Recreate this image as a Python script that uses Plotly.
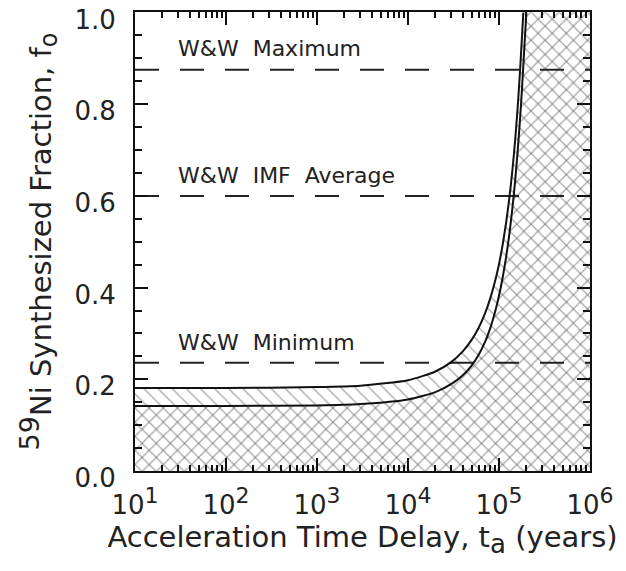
import plotly.graph_objects as go

# ---- data ----
t_upper = [10, 100, 1000, 3000, 1e4, 2e4, 3e4, 4e4, 5e4, 6e4, 7e4, 8e4, 9e4,
           1e5, 1.1e5, 1.2e5, 1.3e5, 1.4e5, 1.5e5, 1.6e5, 1.7e5, 1.8e5, 1.85e5]
f_upper = [0.181, 0.181, 0.183, 0.186, 0.198, 0.217, 0.238, 0.261, 0.286, 0.313,
           0.343, 0.376, 0.412, 0.451, 0.495, 0.543, 0.596, 0.654, 0.718, 0.790,
           0.870, 0.957, 1.0]

t_lower = [10, 100, 1000, 3000, 1e4, 2e4, 3e4, 4e4, 5e4, 6e4, 7e4, 8e4, 9e4,
           1e5, 1.1e5, 1.2e5, 1.3e5, 1.4e5, 1.5e5, 1.6e5, 1.7e5, 1.8e5, 1.9e5, 2.0e5]
f_lower = [0.142, 0.142, 0.143, 0.146, 0.156, 0.172, 0.190, 0.209, 0.230, 0.254,
           0.281, 0.311, 0.345, 0.382, 0.423, 0.468, 0.517, 0.571, 0.630, 0.695,
           0.765, 0.842, 0.925, 1.0]

ww_labels = ["W&amp;W  Maximum", "W&amp;W  IMF  Average", "W&amp;W  Minimum"]
ww_values = [0.875, 0.600, 0.236]
ww_label_y = [0.889, 0.613, 0.249]

x_tick_exps = [1, 2, 3, 4, 5, 6]
x_tick_text = ["10<sup><span style='font-size:22px'>%d</span></sup>" % e for e in x_tick_exps]
y_tick_vals = [0.0, 0.2, 0.4, 0.6, 0.8, 1.0]

X_MIN, X_MAX = 10, 1e6
Y_MIN, Y_MAX = 0.0, 1.0

FONT = "DejaVu Sans"
HATCH = "#5a5a5a"

fig = go.Figure()

# hatched regions: under/right of upper curve (\), under/right of lower curve (/)
for tx, fy, shape in [(t_upper, f_upper, "\\"), (t_lower, f_lower, "/")]:
    fig.add_trace(go.Scatter(
        x=list(tx) + [X_MAX, X_MAX, X_MIN],
        y=list(fy) + [Y_MAX, Y_MIN, Y_MIN],
        mode="none", fill="toself", fillcolor="rgba(0,0,0,0)",
        fillpattern=dict(shape=shape, fgcolor=HATCH, bgcolor="rgba(0,0,0,0)",
                         size=10, solidity=0.14),
        hoverinfo="skip", showlegend=False))

# dashed reference lines
for v in ww_values:
    fig.add_trace(go.Scatter(
        x=[X_MIN, X_MAX], y=[v, v], mode="lines",
        line=dict(color="#222", width=2, dash="24px,21px"),
        showlegend=False, hoverinfo="skip"))

# solid curves
for tx, fy in [(t_upper, f_upper), (t_lower, f_lower)]:
    fig.add_trace(go.Scatter(
        x=tx, y=fy, mode="lines",
        line=dict(color="#111", width=2, shape="spline", smoothing=0.6),
        showlegend=False))

for lab, ly in zip(ww_labels, ww_label_y):
    fig.add_annotation(x=1.45, y=ly, xref="x", yref="y", text=lab,
                       showarrow=False, xanchor="left", yanchor="bottom",
                       font=dict(family=FONT, size=22, color="#222"))

minor_x = [m * 10 ** e for e in range(1, 6) for m in range(2, 10)]

fig.update_layout(
    width=626, height=571,
    margin=dict(l=127, r=44, t=4, b=108, autoexpand=False),
    plot_bgcolor="white", paper_bgcolor="white",
    font=dict(family=FONT, color="#222"),
    xaxis=dict(
        type="log", range=[1, 6], showgrid=False, zeroline=False, automargin=False,
        showline=True, linecolor="#111", linewidth=2, mirror="ticks",
        ticks="inside", ticklen=13, tickwidth=1.5, tickcolor="#111",
        tickvals=[10 ** e for e in x_tick_exps], ticktext=x_tick_text,
        tickfont=dict(size=26), ticklabelstandoff=10, ticklabeloverflow="allow",
        minor=dict(ticks="inside", ticklen=6, tickwidth=1.5, tickcolor="#111",
                   tickvals=minor_x, showgrid=False),
        title=dict(text="Acceleration Time Delay, t<sub><span style='font-size:26px'>a</span></sub> (years)",
                   font=dict(size=29), standoff=4),
    ),
    yaxis=dict(
        range=[Y_MIN, Y_MAX + 0.001], showgrid=False, zeroline=False, automargin=False,
        showline=True, linecolor="#111", linewidth=2, mirror="ticks",
        ticks="inside", ticklen=13, tickwidth=1.5, tickcolor="#111",
        tickvals=y_tick_vals, tickformat=".1f",
        tickfont=dict(size=26), ticklabelstandoff=12, ticklabeloverflow="allow",
        ticklabelshift=7,
        minor=dict(ticks="inside", ticklen=7, tickwidth=1.5, tickcolor="#111",
                   dtick=0.05, showgrid=False),
        title=dict(text="<sup><span style='font-size:27px'>59</span></sup>Ni Synthesized Fraction, f<sub><span style='font-size:24px'>o</span></sub>",
                   font=dict(size=29), standoff=14),
    ),
)

fig.write_html("out.html")
